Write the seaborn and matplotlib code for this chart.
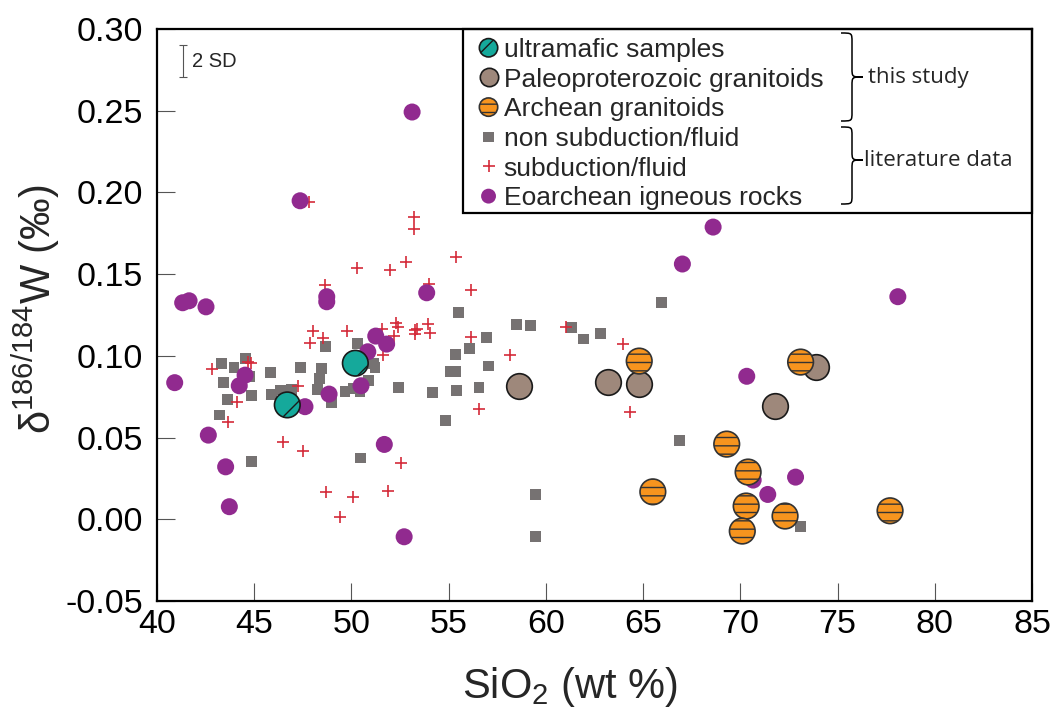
import numpy as np
import matplotlib
matplotlib.use("Agg")
import matplotlib.pyplot as plt
import seaborn as sns
from matplotlib.path import Path
from matplotlib.patches import PathPatch, Rectangle

# ---------------- data ----------------
ultramafic_sio2 = [46.7, 50.2]
ultramafic_w = [0.0700, 0.0955]

paleo_sio2 = [58.6, 63.2, 64.8, 71.8, 73.9]
paleo_w = [0.0815, 0.0838, 0.0826, 0.0693, 0.0930]

archean_sio2 = [64.8, 73.1, 69.3, 70.4, 65.5, 70.3, 72.3, 70.1, 77.7]
archean_w = [0.0968, 0.0962, 0.0460, 0.0289, 0.0168, 0.0081, 0.0020, -0.0072, 0.0052]

nonsub_sio2 = [55.50, 50.29, 48.68, 55.33, 43.33, 44.53, 43.96, 44.78, 45.85, 47.36,
               48.47, 43.42, 44.84, 43.62, 43.21, 48.35, 48.27, 45.90, 46.33, 46.93,
               48.99, 49.67, 50.10, 50.44, 51.13, 51.21, 52.41, 54.18, 55.40, 54.85,
               50.48, 44.84, 55.33, 55.07, 58.47, 59.19, 56.96, 56.05, 57.06, 56.56,
               61.33, 61.93, 62.82, 65.96, 66.87, 59.48, 59.48, 73.11, 50.90]
nonsub_w = [0.1264, 0.1077, 0.1056, 0.1009, 0.0954, 0.0985, 0.0927, 0.0876, 0.0897, 0.0927,
            0.0923, 0.0836, 0.0756, 0.0734, 0.0638, 0.0862, 0.0795, 0.0766, 0.0791, 0.0795,
            0.0716, 0.0780, 0.0801, 0.0780, 0.0954, 0.0927, 0.0805, 0.0774, 0.0786, 0.0603,
            0.0375, 0.0352, 0.0906, 0.0906, 0.1193, 0.1184, 0.1113, 0.1046, 0.0938, 0.0805,
            0.1174, 0.1103, 0.1135, 0.1325, 0.0480, 0.0154, -0.0107, -0.0046, 0.0850]

sub_sio2 = [47.84, 53.22, 53.22, 55.38, 50.30, 51.99, 52.81, 48.66, 54.01, 56.14,
            48.04, 49.76, 48.52, 47.87, 51.56, 52.29, 52.41, 52.19, 53.27, 53.39,
            53.96, 54.04, 53.27, 51.64, 56.14, 58.16, 56.54, 44.70, 44.85, 42.84,
            44.13, 43.67, 47.24, 46.50, 47.50, 52.54, 48.69, 50.06, 51.89, 49.41,
            61.04, 63.95, 64.33]
sub_w = [0.1943, 0.1851, 0.1774, 0.1606, 0.1535, 0.1525, 0.1576, 0.1435, 0.1439, 0.1403,
         0.1154, 0.1154, 0.1111, 0.1076, 0.1162, 0.1199, 0.1178, 0.1121, 0.1158, 0.1164,
         0.1195, 0.1138, 0.1131, 0.1008, 0.1113, 0.1005, 0.0674, 0.0960, 0.0955, 0.0917,
         0.0716, 0.0593, 0.0817, 0.0474, 0.0417, 0.0342, 0.0165, 0.0134, 0.0175, 0.0015,
         0.1174, 0.1072, 0.0654]

eo_sio2 = [53.12, 47.36, 41.32, 41.65, 42.52, 48.73, 48.73, 53.87, 51.25, 51.81,
           50.84, 40.91, 44.53, 44.23, 48.85, 50.49, 47.61, 42.64, 43.53, 51.69,
           43.72, 52.71, 67.02, 68.60, 78.10, 70.33, 72.84, 71.41, 70.66]
eo_w = [0.2492, 0.1949, 0.1325, 0.1337, 0.1300, 0.1362, 0.1331, 0.1386, 0.1121, 0.1072,
        0.1025, 0.0836, 0.0882, 0.0817, 0.0766, 0.0817, 0.0689, 0.0515, 0.0321, 0.0458,
        0.0077, -0.0107, 0.1562, 0.1788, 0.1362, 0.0875, 0.0258, 0.0152, 0.0240]

x_ticks = [40, 45, 50, 55, 60, 65, 70, 75, 80, 85]
y_ticks = [-0.05, 0.00, 0.05, 0.10, 0.15, 0.20, 0.25, 0.30]
y_ticklabels = ["-0.05", "0.00", "0.05", "0.10", "0.15", "0.20", "0.25", "0.30"]

legend_labels = ["ultramafic samples", "Paleoproterozoic granitoids", "Archean granitoids",
                 "non subduction/fluid", "subduction/fluid", "Eoarchean igneous rocks"]
group_labels = ["this study", "literature data"]
two_sd = 0.02

# ---------------- style ----------------
sns.set_theme(style="ticks")
plt.rcParams["font.family"] = ["Liberation Sans", "DejaVu Sans"]
plt.rcParams["mathtext.fontset"] = "custom"
plt.rcParams["mathtext.rm"] = "Liberation Sans"
plt.rcParams["mathtext.it"] = "Liberation Sans"
plt.rcParams["mathtext.bf"] = "Liberation Sans:bold"
plt.rcParams["hatch.linewidth"] = 1.0

TEAL = "#15a99b"
BROWN = "#9e887b"
ORANGE = "#f7941e"
GRAY = "#767272"
RED = "#d42b3a"
PURPLE = "#912a8f"

W, H = 1057, 715
fig = plt.figure(figsize=(W / 100, H / 100), dpi=100)
ax = fig.add_axes([157 / W, 1 - 601 / H, 875 / W, 572 / H])

sns.scatterplot(x=nonsub_sio2, y=nonsub_w, marker="s", s=62, color=GRAY, edgecolor="none",
                linewidth=0, ax=ax, label=legend_labels[3], zorder=2, legend=False)
sns.scatterplot(x=sub_sio2, y=sub_w, marker="+", s=75, color=RED, edgecolor=RED,
                linewidth=1.2, ax=ax, label=legend_labels[4], zorder=3, legend=False)
sns.scatterplot(x=eo_sio2, y=eo_w, marker="o", s=150, color=PURPLE, edgecolor="none",
                linewidth=0, ax=ax, label=legend_labels[5], zorder=4, legend=False)
sns.scatterplot(x=paleo_sio2, y=paleo_w, marker="o", s=340, color=BROWN, edgecolor="#1a1a1a",
                linewidth=1.2, ax=ax, label=legend_labels[1], zorder=5, legend=False)
sns.scatterplot(x=archean_sio2, y=archean_w, marker="o", s=340, color=ORANGE, edgecolor="#333333",
                linewidth=1.2, hatch="--", ax=ax, label=legend_labels[2], zorder=6, legend=False)
sns.scatterplot(x=ultramafic_sio2, y=ultramafic_w, marker="o", s=340, color=TEAL, edgecolor="#1a1a1a",
                linewidth=1.2, hatch="/", ax=ax, label=legend_labels[0], zorder=7, legend=False)

ax.set_xlim(40, 85)
ax.set_ylim(-0.05, 0.30)
ax.set_xticks(x_ticks)
ax.set_xticklabels([str(t) for t in x_ticks])
ax.set_yticks(y_ticks)
ax.set_yticklabels(y_ticklabels)
ax.tick_params(axis="both", direction="in", length=13, width=0.8, color="#555555",
               labelsize=24.5, labelcolor="black")
ax.tick_params(axis="x", pad=6)
ax.tick_params(axis="y", pad=10)
for sp in ax.spines.values():
    sp.set_linewidth(1.6)
    sp.set_color("black")
    sp.set_visible(True)

ax.set_xlabel("SiO$_2$ (wt %)", fontsize=30)
ax.set_ylabel("δ$^{186/184}$W (‰)", fontsize=30)
ax.xaxis.set_label_coords(0.472, -0.112)
ax.yaxis.set_label_coords(-0.109, 0.51)

# 2 SD bar
ax.errorbar([41.32], [0.2804], yerr=[two_sd / 2], color="#555555", elinewidth=0.8,
            capsize=3, capthick=0.8, fmt="none", zorder=8)
ax.text(41.8, 0.2804, "2 SD", fontsize=14.5, va="center", ha="left")

# legend box
ax.add_patch(Rectangle(((463 - 157) / 875, (601 - 213) / 572), 1 - (463 - 157) / 875,
                       1 - (601 - 213) / 572, transform=ax.transAxes, fill=False,
                       edgecolor="black", linewidth=1.6, clip_on=False, zorder=9))

handles, labels = ax.get_legend_handles_labels()
hmap = dict(zip(labels, handles))
leg = ax.legend([hmap[l] for l in legend_labels], legend_labels, loc="upper left",
                bbox_to_anchor=(476 / W, 1 - 38 / H), bbox_transform=fig.transFigure,
                frameon=False, borderpad=0, borderaxespad=0, handlelength=0.95,
                handletextpad=0.1, labelspacing=0.215, fontsize=19, scatterpoints=1,
                scatteryoffsets=[0.5])
leg_sizes = [175, 175, 175, 55, 65, 115]
for h, sz in zip(leg.legend_handles, leg_sizes):
    h.set_sizes([sz])


# braces
def brace(x0, xm, xt, ytop, ybot, ytip, d):
    def P(x, y):
        return (x / 100, (H - y) / 100)
    verts = [P(x0, ytop), P(xm, ytop), P(xm, ytop), P(xm, ytop + d),
             P(xm, ytip - d),
             P(xm, ytip), P(xm, ytip), P(xt, ytip),
             P(xm, ytip), P(xm, ytip), P(xm, ytip + d),
             P(xm, ybot - d),
             P(xm, ybot), P(xm, ybot), P(x0, ybot)]
    codes = [Path.MOVETO, Path.CURVE4, Path.CURVE4, Path.CURVE4,
             Path.LINETO,
             Path.CURVE4, Path.CURVE4, Path.CURVE4,
             Path.CURVE4, Path.CURVE4, Path.CURVE4,
             Path.LINETO,
             Path.CURVE4, Path.CURVE4, Path.CURVE4]
    fig.add_artist(PathPatch(Path(verts, codes), transform=fig.dpi_scale_trans,
                             fill=False, edgecolor="black", linewidth=1.1))


brace(841, 852, 863, 33, 121, 77, 9)
brace(841, 852, 863, 127, 204, 160, 9)
fig.text(868 / W, 1 - 77 / H, group_labels[0], fontsize=16, va="center", ha="left",
         family=["Open Sans", "DejaVu Sans"])
fig.text(864 / W, 1 - 160 / H, group_labels[1], fontsize=16, va="center", ha="left",
         family=["Open Sans", "DejaVu Sans"])

fig.savefig("out.png", dpi=100)
